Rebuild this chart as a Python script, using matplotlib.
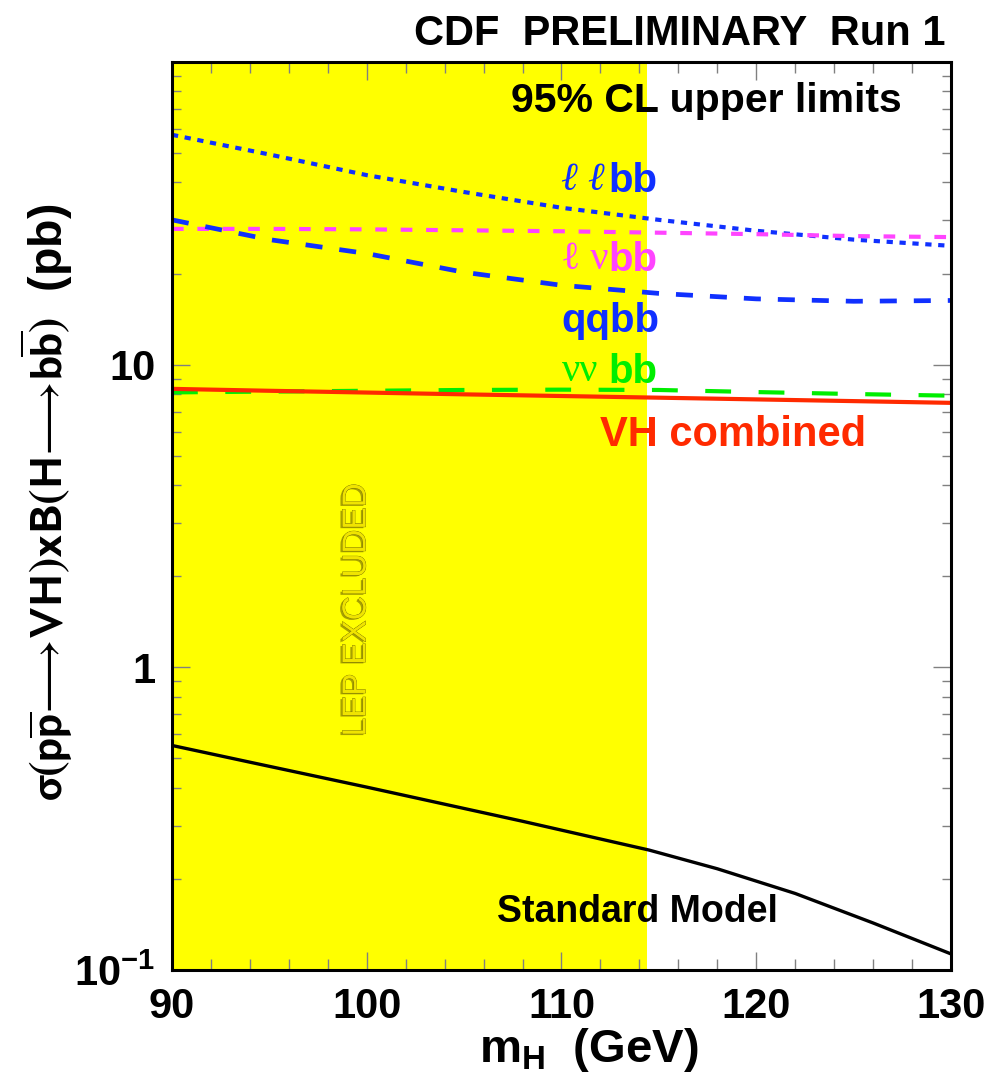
import numpy as np
import matplotlib
matplotlib.use("Agg")
import matplotlib.pyplot as plt
import matplotlib.patheffects as pe
from matplotlib.ticker import FixedLocator, MultipleLocator, NullFormatter, LogLocator

plt.rcParams['mathtext.fontset'] = 'custom'
plt.rcParams['mathtext.bf'] = 'Liberation Sans:bold'
plt.rcParams['mathtext.rm'] = 'Liberation Sans:bold'
plt.rcParams['mathtext.sf'] = 'Liberation Sans:bold'
plt.rcParams['mathtext.it'] = 'Liberation Sans:bold'

SANS = ['Liberation Sans', 'DejaVu Sans']
SERIF = ['Liberation Serif', 'DejaVu Serif']

# Higgs mass points (GeV)
mass = [90, 95, 100, 105, 110, 115, 120, 125, 130]

# 95% CL upper limits on sigma x BR (pb)
llbb = [57.5, 49.5, 42.3, 37.2, 33.0, 30.1, 27.7, 25.9, 24.7]
lvbb = [28.1, 28.1, 28.0, 27.8, 27.6, 27.3, 27.0, 26.6, 26.4]
qqbb = [30.1, 25.9, 23.3, 20.2, 18.3, 17.2, 16.5, 16.2, 16.3]
vvbb = [8.10, 8.15, 8.20, 8.25, 8.27, 8.25, 8.12, 8.00, 7.90]
vh_comb = [8.32, 8.20, 8.09, 7.98, 7.88, 7.78, 7.68, 7.58, 7.48]

# Standard Model prediction (pb)
sm_mass = [90, 94, 100, 108, 114.5, 118, 122, 126, 130]
sm = [0.552, 0.486, 0.402, 0.310, 0.249, 0.216, 0.179, 0.143, 0.113]

lep_limit = 114.4

fig = plt.figure(figsize=(9.98, 10.81), dpi=100)
ax = fig.add_axes([0.1723, 0.1027, 0.7806, 0.8399])

ax.axvspan(90, lep_limit, color='#ffff00', lw=0, zorder=0)

blue = '#1030ff'
ax.plot(mass, llbb, color=blue, lw=3.0, dashes=(1.5, 1.6), zorder=3)
ax.plot(mass, lvbb, color='#ff44ff', lw=3.0, dashes=(2.8, 3.3), zorder=3)
ax.plot(mass, qqbb, color=blue, lw=3.4, dashes=(3.6, 3.6), zorder=3)
ax.plot(mass, vvbb, color='#00ee00', lw=3.0, dashes=(6.2, 6.6), zorder=3)
ax.plot(mass, vh_comb, color='#ff2a00', lw=3.0, zorder=4)
ax.plot(sm_mass, sm, color='black', lw=2.4, zorder=4)

ax.set_yscale('log')
ax.set_xlim(90, 130)
ax.set_ylim(0.1, 100)

ax.xaxis.set_major_locator(MultipleLocator(10))
ax.xaxis.set_minor_locator(MultipleLocator(2))
ax.yaxis.set_major_locator(FixedLocator([0.1, 1, 10]))
ax.yaxis.set_minor_locator(LogLocator(base=10, subs=np.arange(2, 10)))
ax.yaxis.set_minor_formatter(NullFormatter())
ax.set_yticklabels([r'$\mathsf{10^{-1}}$', '1', '10'])

ax.tick_params(which='both', direction='in', top=True, right=True,
               color='#808080', width=1.0)
ax.tick_params(which='major', length=13, pad=12)
ax.tick_params(axis='x', which='minor', length=8)
ax.tick_params(axis='y', which='minor', length=6.5)
for lab in ax.get_xticklabels() + ax.get_yticklabels():
    lab.set_family(SANS)
    lab.set_fontweight('bold')
    lab.set_fontsize(30)
for sp in ax.spines.values():
    sp.set_linewidth(2.2)
    sp.set_zorder(6)

# curve labels
lab_kw = dict(fontsize=29, va='center', zorder=5)
ax.text(110.0, 40.5, '\u2113 \u2113', family=SERIF, style='italic', color=blue, **lab_kw)
ax.text(114.9, 40.5, 'bb', family=SANS, weight='bold', color=blue, ha='right', **lab_kw)
ax.text(110.0, 22.2, '\u2113 \u03bd', family=SERIF, color='#ff44ff', **lab_kw)
ax.text(114.9, 22.2, 'bb', family=SANS, weight='bold', color='#ff44ff', ha='right', **lab_kw)
ax.text(110.0, 13.9, 'qqbb', family=SANS, weight='bold', color=blue, **lab_kw)
ax.text(110.0, 9.48, '\u03bd\u03bd', family=SERIF, color='#00ee00', **lab_kw)
ax.text(114.9, 9.48, 'bb', family=SANS, weight='bold', color='#00ee00', ha='right', **lab_kw)
ax.text(112.0, 5.85, 'VH combined', family=SANS, weight='bold', color='#ff2a00',
        fontsize=30, va='center', zorder=5)

ax.text(107.4, 74.2, '95% CL upper limits', family=SANS, weight='bold',
        color='black', fontsize=29.5, va='center', zorder=5)
ax.text(106.7, 0.156, 'Standard Model', family=SANS, weight='bold',
        color='black', fontsize=27, va='center', zorder=5)

ax.text(99.5, 1.55, 'LEP EXCLUDED', family=SANS, fontsize=24, rotation=90,
        ha='center', va='center', color='#f0e400', zorder=2,
        path_effects=[pe.withSimplePatchShadow(offset=(-1.5, -1), shadow_rgbFace='#8a8200', alpha=0.75),
                      pe.Stroke(linewidth=0.5, foreground='#6a6300'),
                      pe.Normal()])

fig.text(945 / 998, 1 - 34 / 1081, 'CDF  PRELIMINARY  Run 1', family=SANS,
         weight='bold', fontsize=30, ha='right', va='center')
fig.text(589 / 998, 1 - 1050 / 1081, r'm$_{\mathsf{H}}$  (GeV)', family=SANS,
         weight='bold', fontsize=34, ha='center', va='center')
fig.text(47 / 998, 1 - 502 / 1081,
         r'$\mathbf{\sigma(p\overline{p}}\!\longrightarrow\!\mathbf{VH)xB(H}\!\longrightarrow\!\mathbf{b\overline{b})}$  (pb)',
         family=SANS, weight='bold', fontsize=33.5, rotation=90, ha='center', va='center',
         math_fontfamily='stixsans')

fig.savefig('out.png', dpi=100)
